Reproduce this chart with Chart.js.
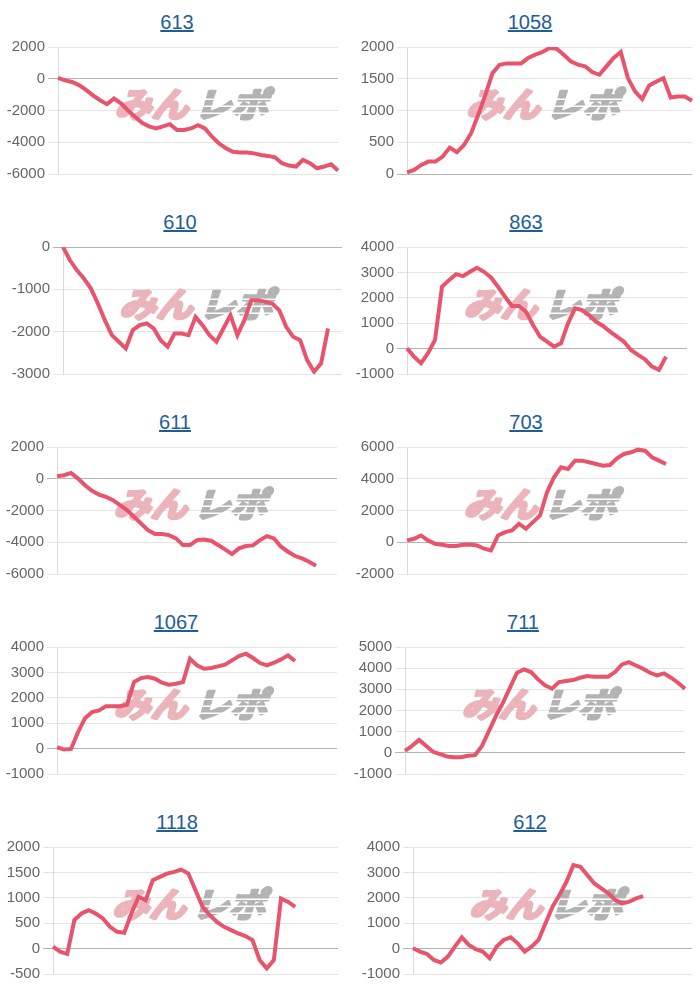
<!DOCTYPE html>
<html>
<head>
<meta charset="utf-8">
<script src="https://cdn.jsdelivr.net/npm/chart.js@4.4.1/dist/chart.umd.min.js"></script>
<style>
  body { margin: 0; background: #fff; width: 700px; height: 1000px; position: relative; overflow: hidden;
         font-family: "Liberation Sans", Arial, sans-serif; }
  .title { position: absolute; font-size: 20px; color: #1d5e9a; text-decoration: underline;
           transform: translateX(-50%); white-space: nowrap; }
  canvas { position: absolute; }
</style>
</head>
<body>
<script>
// machine numbers shown as the chart titles
const titles = ['613', '1058', '610', '863', '611', '703', '1067', '711', '1118', '612'];

// hidden x categories (games), shared by every panel
const games = Array.from({ length: 41 }, (_, i) => i + 1);

// balance per game for each machine
const s613 = [60, -100, -200, -400, -700, -1050, -1350, -1600, -1250, -1550, -2000, -2400, -2780, -3000,
  -3130, -3000, -2860, -3230, -3230, -3130, -2920, -3130, -3650, -4070, -4380, -4600, -4650, -4650, -4700,
  -4800, -4860, -4950, -5320, -5470, -5530, -5110, -5320, -5640, -5530, -5390, -5780];
const s1058 = [26, 63, 142, 195, 195, 274, 416, 342, 458, 642, 932, 1247, 1589, 1721, 1742, 1742, 1742,
  1826, 1879, 1921, 1984, 1974, 1879, 1774, 1721, 1695, 1605, 1563, 1695, 1826, 1920, 1510, 1300, 1180,
  1395, 1458, 1510, 1205, 1221, 1221, 1153];
const s610 = [0, -314, -550, -746, -982, -1335, -1728, -2082, -2239, -2396, -1964, -1846, -1807, -1925,
  -2200, -2357, -2043, -2043, -2082, -1650, -1846, -2082, -2239, -1925, -1610, -2082, -1728, -1257,
  -1257, -1296, -1335, -1493, -1885, -2121, -2200, -2671, -2946, -2749, -1925];
const s863 = [13, -314, -576, -183, 340, 2435, 2696, 2932, 2853, 3024, 3181, 3024, 2801, 2435, 2042, 1675,
  1675, 1453, 929, 471, 275, 79, 209, 995, 1584, 1518, 1322, 1060, 890, 668, 471, 275, -52, -249, -419,
  -707, -838, -314];
const s611 = [157, 220, 366, 10, -408, -764, -995, -1141, -1351, -1665, -1979, -2398, -2817, -3236, -3487,
  -3487, -3550, -3759, -4178, -4178, -3864, -3822, -3906, -4178, -4450, -4743, -4387, -4241, -4199, -3864,
  -3613, -3759, -4283, -4597, -4869, -5016, -5225, -5476];
const s703 = [115, 220, 429, 115, -94, -157, -241, -241, -157, -136, -199, -408, -513, 429, 639, 743, 1162,
  848, 1267, 1686, 3152, 4094, 4723, 4618, 5141, 5141, 5037, 4932, 4827, 4869, 5288, 5560, 5665, 5832,
  5770, 5351, 5141, 4932];
const s1067 = [53, -39, -13, 645, 1197, 1434, 1500, 1671, 1671, 1671, 1724, 2618, 2776, 2816, 2750, 2592,
  2513, 2553, 2618, 3539, 3276, 3145, 3171, 3237, 3303, 3474, 3645, 3737, 3566, 3368, 3276, 3382, 3513,
  3671, 3447];
const s711 = [94, 330, 612, 330, 47, -63, -173, -204, -204, -141, -110, 330, 1036, 1743, 2370, 3077, 3783,
  3940, 3815, 3469, 3187, 3030, 3344, 3391, 3438, 3548, 3626, 3595, 3595, 3595, 3815, 4176, 4286, 4129,
  3972, 3783, 3658, 3752, 3548, 3312, 3030];
const s1118 = [37, -62, -107, 560, 691, 757, 691, 593, 429, 331, 311, 691, 1018, 953, 1346, 1411, 1477,
  1509, 1555, 1477, 1149, 822, 658, 527, 429, 364, 298, 246, 168, -225, -389, -225, 986, 920, 822];
const s612 = [13, -118, -209, -445, -550, -314, 79, 445, 144, -26, -118, -380, 79, 340, 445, 209, -118, 79,
  340, 995, 1649, 2107, 2631, 3285, 3220, 2893, 2565, 2369, 2173, 1911, 1780, 1846, 1976, 2068];

const series = [s613, s1058, s610, s863, s611, s703, s1067, s711, s1118, s612];

// y-axis tick ranges
const yMin = [-6000, 0, -3000, -1000, -6000, -2000, -1000, -1000, -500, -1000];
const yMax = [2000, 2000, 0, 4000, 2000, 6000, 4000, 5000, 2000, 4000];
const yStep = [2000, 500, 1000, 1000, 2000, 2000, 1000, 1000, 500, 1000];

// panel placement: axis x, plot right edge, title centre
const panels = [
  { col: 0, row: 0, axis: 58, right: 338, tx: 177 },
  { col: 1, row: 0, axis: 407, right: 692, tx: 530 },
  { col: 0, row: 1, axis: 63, right: 342, tx: 180 },
  { col: 1, row: 1, axis: 407, right: 687, tx: 526 },
  { col: 0, row: 2, axis: 57, right: 337, tx: 175 },
  { col: 1, row: 2, axis: 407, right: 687, tx: 526 },
  { col: 0, row: 3, axis: 57, right: 337, tx: 176 },
  { col: 1, row: 3, axis: 405, right: 685, tx: 523 },
  { col: 0, row: 4, axis: 53, right: 338, tx: 177 },
  { col: 1, row: 4, axis: 413, right: 692, tx: 530 }
];

// faint "みんレポ" logo behind the line
const watermark = {
  id: 'watermark',
  beforeDatasetsDraw(chart) {
    const { ctx, chartArea: a } = chart;
    const cx = (a.left + a.right) / 2 - 3;
    const cy = (a.top + a.bottom) / 2 - 6;
    ctx.save();
    ctx.translate(cx, cy);
    ctx.transform(1, 0, -0.3, 1, 0, 0);
    ctx.scale(1.08, 1);
    ctx.font = 'bold 34px "Noto Sans CJK JP"';
    ctx.textBaseline = 'middle';
    ctx.lineJoin = 'round';
    ctx.lineWidth = 3;
    ctx.textAlign = 'right';
    ctx.fillStyle = ctx.strokeStyle = '#ebb4ba';
    ctx.fillText('みん', -3, 0);
    ctx.strokeText('みん', -3, 0);
    ctx.textAlign = 'left';
    ctx.fillStyle = ctx.strokeStyle = '#b3b3b3';
    ctx.fillText('レポ', 3, 0);
    ctx.strokeText('レポ', 3, 0);
    // speed stripes across the grey half
    ctx.fillStyle = '#fff';
    [-6, 1, 8].forEach(y => ctx.fillRect(8, y, 70, 1.5));
    ctx.restore();
  }
};

panels.forEach((p, i) => {
  const left = p.col * 350;
  const top = p.row * 200;

  const t = document.createElement('div');
  t.className = 'title';
  t.textContent = titles[i];
  t.style.left = p.tx + 'px';
  t.style.top = (top + 11) + 'px';
  document.body.appendChild(t);

  const c = document.createElement('canvas');
  c.width = 350;
  c.height = 160;
  c.style.left = left + 'px';
  c.style.top = (top + 30) + 'px';
  document.body.appendChild(c);

  new Chart(c.getContext('2d'), {
    type: 'line',
    data: {
      labels: games,
      datasets: [{
        data: series[i],
        borderColor: '#e8546c',
        borderWidth: 4,
        pointRadius: 0,
        tension: 0,
        fill: false
      }]
    },
    options: {
      responsive: false,
      animation: false,
      layout: { padding: { top: 17, bottom: 16, left: 0, right: 350 - (p.right - left) } },
      plugins: { legend: { display: false }, tooltip: { enabled: false } },
      scales: {
        x: { display: false },
        y: {
          min: yMin[i],
          max: yMax[i],
          afterFit: (scale) => { scale.width = p.axis - left; },
          ticks: {
            stepSize: yStep[i],
            padding: 3,
            color: '#666',
            font: { family: '"Liberation Sans", Arial, sans-serif', size: 15 },
            callback: (v) => String(v)
          },
          grid: {
            tickLength: 10,
            color: (ctx) => (ctx.tick && ctx.tick.value === 0 ? '#b4b4b4' : '#e4e4e4')
          },
          border: { color: '#dcdcdc' }
        }
      }
    },
    plugins: [watermark]
  });
});
</script>
</body>
</html>
